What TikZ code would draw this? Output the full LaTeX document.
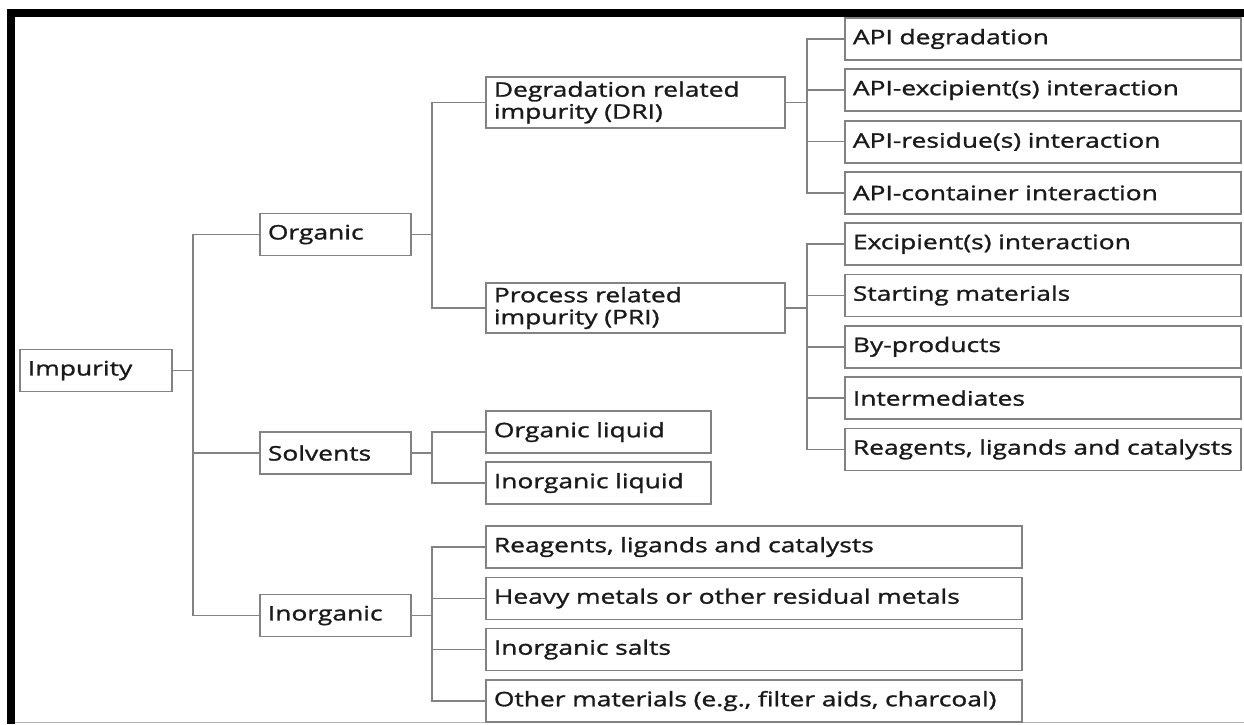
\documentclass[tikz,border=0pt]{standalone}
\usepackage{fontspec}
\setmainfont{Open Sans}[FakeStretch=1.32, FakeBold=1.3]
\usetikzlibrary{calc}
\definecolor{edge}{HTML}{828282}
\definecolor{ink}{HTML}{1A1A1A}
\tikzset{
  box/.style={draw=edge, line width=1.8pt, fill=white, anchor=west,
    minimum height=42pt, inner xsep=8pt, inner ysep=0pt,
    text width=#1, align=left, text=ink,
    font=\fontsize{20}{22}\selectfont},
  link/.style={draw=edge, line width=1.7pt}
}
\begin{document}
\begin{tikzpicture}[x=1pt, y=-1pt]
  \useasboundingbox (0,0) rectangle (1244,724);
  \fill[white] (0,0) rectangle (1244,724);
  % frame
  \fill[black] (7,9) rectangle (1244,17);
  \fill[black] (7,9) rectangle (15,724);
  \draw[gray!60, line width=1.5pt] (15,722.5) -- (1244,722.5);

  % root
  \node[box=136pt] (imp) at (19,370.5) {Impurity};
  % first level
  \node[box=135pt] (org) at (259,234.5) {Organic};
  \node[box=135pt] (sol) at (259,453) {Solvents};
  \node[box=135pt] (inorg) at (259,615.5) {Inorganic};
  % organic branches
  \node[box=283pt, minimum height=51pt] (dri) at (485,102.5) {Degradation related\\impurity (DRI)};
  \node[box=283pt, minimum height=50pt] (pri) at (485,308) {Process related\\impurity (PRI)};
  % degradation related
  \node[box=380pt] (r1) at (844,39) {API degradation};
  \node[box=380pt] (r2) at (844,90.3) {API-excipient(s) interaction};
  \node[box=380pt] (r3) at (844,141.6) {API-residue(s) interaction};
  \node[box=380pt] (r4) at (844,192.9) {API-container interaction};
  % process related
  \node[box=380pt] (r5) at (844,244.2) {Excipient(s) interaction};
  \node[box=380pt] (r6) at (844,295.5) {Starting materials};
  \node[box=380pt] (r7) at (844,346.8) {By-products};
  \node[box=380pt] (r8) at (844,398.1) {Intermediates};
  \node[box=380pt] (r9) at (844,449.4) {Reagents, ligands and catalysts};
  % solvents
  \node[box=209pt] (ol) at (485,432) {Organic liquid};
  \node[box=209pt] (il) at (485,483) {Inorganic liquid};
  % inorganic
  \node[box=520pt] (b1) at (485,547) {Reagents, ligands and catalysts};
  \node[box=520pt] (b2) at (485,598.5) {Heavy metals or other residual metals};
  \node[box=520pt] (b3) at (485,649.5) {Inorganic salts};
  \node[box=520pt] (b4) at (485,701) {Other materials (e.g., filter aids, charcoal)};

  % junction points of the connector buses
  \coordinate (j1) at (193,370.5);
  \coordinate (j2) at (432,234.5);
  \coordinate (j3) at (807,102.5);
  \coordinate (j4) at (807,308);
  \coordinate (j5) at (432,453);
  \coordinate (j6) at (432,615.5);

  \begin{scope}[link]
    \draw (imp.east) -- (j1);
    \foreach \c in {org,sol,inorg} \draw (j1) |- (\c.west);
    \draw (org.east) -- (j2);
    \foreach \c in {dri,pri} \draw (j2) |- (\c.west);
    \draw (dri.east) -- (j3);
    \foreach \c in {r1,r2,r3,r4} \draw (j3) |- (\c.west);
    \draw (pri.east) -- (j4);
    \foreach \c in {r5,r6,r7,r8,r9} \draw (j4) |- (\c.west);
    \draw (sol.east) -- (j5);
    \foreach \c in {ol,il} \draw (j5) |- (\c.west);
    \draw (inorg.east) -- (j6);
    \foreach \c in {b1,b2,b3,b4} \draw (j6) |- (\c.west);
  \end{scope}
\end{tikzpicture}
\end{document}
